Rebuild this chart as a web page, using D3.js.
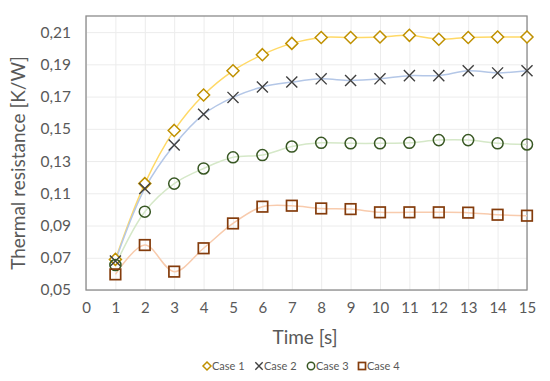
<!DOCTYPE html>
<html>
<head>
<meta charset="utf-8">
<script src="https://cdn.jsdelivr.net/npm/d3@7"></script>
<style>
  body { margin: 0; background: #fff; }
  svg text { font-family: Lato, "Noto Sans", sans-serif; fill: #595959; }
</style>
</head>
<body>
<svg id="chart" width="550" height="381"></svg>
<script>
// data
var time = [1, 2, 3, 4, 5, 6, 7, 8, 9, 10, 11, 12, 13, 14, 15];
var case1 = [0.069, 0.116, 0.149, 0.171, 0.186, 0.196, 0.203, 0.2067, 0.2067, 0.207, 0.208, 0.2056, 0.2067, 0.207, 0.207];
var case2 = [0.068, 0.113, 0.140, 0.159, 0.1695, 0.176, 0.179, 0.181, 0.180, 0.181, 0.183, 0.183, 0.186, 0.1847, 0.186];
var case3 = [0.0655, 0.0986, 0.116, 0.1254, 0.1323, 0.1337, 0.139, 0.1413, 0.141, 0.141, 0.1413, 0.143, 0.143, 0.141, 0.1403];
var case4 = [0.0597, 0.0779, 0.0614, 0.0759, 0.0913, 0.1017, 0.1023, 0.1006, 0.1002, 0.0982, 0.0982, 0.0982, 0.098, 0.0967, 0.0961];
var xTicks = d3.range(0, 16);
var yTicks = [0.05, 0.07, 0.09, 0.11, 0.13, 0.15, 0.17, 0.19, 0.21];

var series = [
  {name: 'Case 1', values: case1, line: '#ffd966', mark: '#bf9000', shape: 'diamond'},
  {name: 'Case 2', values: case2, line: '#b4c7e7', mark: '#404040', shape: 'cross'},
  {name: 'Case 3', values: case3, line: '#d5e8c8', mark: '#385723', shape: 'circle'},
  {name: 'Case 4', values: case4, line: '#f8cbad', mark: '#843c0c', shape: 'square'}
];

var svg = d3.select('svg#chart');
var plotL = 86, plotT = 16, plotR = 527, plotB = 290;

var x = d3.scaleLinear().domain([0, 15]).range([plotL, plotR]);
var y = d3.scaleLinear().domain([0.05, 0.22]).range([plotB, plotT]);

// grid
svg.append('g')
  .attr('transform', 'translate(0,' + plotB + ')')
  .call(d3.axisBottom(x).tickValues(xTicks).tickSize(-(plotB - plotT)).tickFormat(''))
  .call(function(g){ g.select('.domain').remove(); g.selectAll('line').attr('stroke', '#ececec'); });
svg.append('g')
  .attr('transform', 'translate(' + plotL + ',0)')
  .call(d3.axisLeft(y).tickValues(yTicks).tickSize(-(plotR - plotL)).tickFormat(''))
  .call(function(g){ g.select('.domain').remove(); g.selectAll('line').attr('stroke', '#ececec'); });

// tick labels
var xAxis = svg.append('g')
  .attr('transform', 'translate(0,' + plotB + ')')
  .call(d3.axisBottom(x).tickValues(xTicks).tickSize(0).tickPadding(12));
xAxis.select('.domain').remove();
xAxis.selectAll('text').style('font-size', '15px').attr('fill', '#595959');

var fmt = function(d){ return d3.format('.2f')(d).replace('.', ','); };
var yAxis = svg.append('g')
  .attr('transform', 'translate(' + plotL + ',0)')
  .call(d3.axisLeft(y).tickValues(yTicks).tickSize(0).tickPadding(15).tickFormat(fmt));
yAxis.select('.domain').remove();
yAxis.selectAll('text').style('font-size', '15.5px').attr('fill', '#595959');

// plot frame
svg.append('rect')
  .attr('x', plotL).attr('y', plotT)
  .attr('width', plotR - plotL).attr('height', plotB - plotT)
  .attr('fill', 'none').attr('stroke', '#8c8c8c').attr('stroke-width', 1.3);

// lines
var line = d3.line()
  .x(function(d, i){ return x(time[i]); })
  .y(function(d){ return y(d); })
  .curve(d3.curveCatmullRom.alpha(0.5));

series.forEach(function(s){
  svg.append('path')
    .datum(s.values)
    .attr('d', line)
    .attr('fill', 'none')
    .attr('stroke', s.line)
    .attr('stroke-width', 1.5);
});

function drawMarker(g, shape, color, r){
  if (shape === 'diamond') {
    g.append('path').attr('d', 'M0,' + (-r) + 'L' + r + ',0L0,' + r + 'L' + (-r) + ',0Z')
      .attr('fill', '#fff').attr('stroke', color).attr('stroke-width', 1.5);
  } else if (shape === 'cross') {
    var c = r * 0.92;
    g.append('path').attr('d', 'M' + (-c) + ',' + (-c) + 'L' + c + ',' + c + 'M' + (-c) + ',' + c + 'L' + c + ',' + (-c))
      .attr('fill', 'none').attr('stroke', color).attr('stroke-width', 1.4);
  } else if (shape === 'circle') {
    g.append('circle').attr('r', r * 0.92)
      .attr('fill', 'none').attr('stroke', color).attr('stroke-width', 1.5);
  } else {
    var q = r * 0.88;
    g.append('rect').attr('x', -q).attr('y', -q).attr('width', 2 * q).attr('height', 2 * q)
      .attr('fill', 'none').attr('stroke', color).attr('stroke-width', 1.7);
  }
}

series.forEach(function(s){
  s.values.forEach(function(v, i){
    var g = svg.append('g').attr('transform', 'translate(' + x(time[i]) + ',' + y(v) + ')');
    drawMarker(g, s.shape, s.mark, 6);
  });
});

// axis titles
svg.append('text')
  .attr('x', 305).attr('y', 344)
  .attr('text-anchor', 'middle')
  .style('font-size', '19px')
  .text('Time [s]');

svg.append('text')
  .attr('transform', 'translate(25,163) rotate(-90)')
  .attr('text-anchor', 'middle')
  .style('font-size', '19px')
  .text('Thermal resistance [K/W]');

// legend
var legendX = [207, 259, 311, 362];
series.forEach(function(s, i){
  var g = svg.append('g').attr('transform', 'translate(' + legendX[i] + ',366)');
  drawMarker(g, s.shape, s.mark, 4);
  g.append('text').attr('x', 5).attr('y', 4)
    .style('font-size', '11px')
    .text(s.name);
});
</script>
</body>
</html>
